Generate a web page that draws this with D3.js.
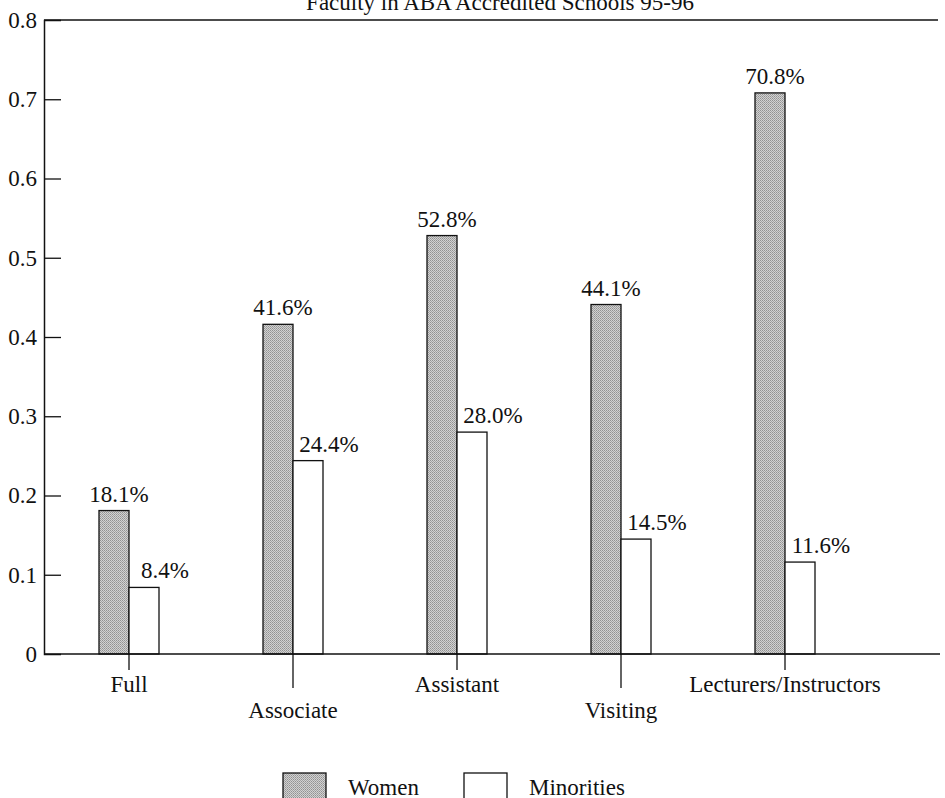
<!DOCTYPE html>
<html>
<head>
<meta charset="utf-8">
<script src="https://cdn.jsdelivr.net/npm/d3@7"></script>
<style>
  body { margin: 0; background: #fff; }
  text { font-family: "Liberation Serif", "DejaVu Serif", serif; fill: #111; }
</style>
</head>
<body>
<div id="chart"></div>
<script>
// data
var categories = ["Full", "Associate", "Assistant", "Visiting", "Lecturers/Instructors"];
var women = [0.181, 0.416, 0.528, 0.441, 0.708];
var minorities = [0.084, 0.244, 0.280, 0.145, 0.116];
var womenLabels = ["18.1%", "41.6%", "52.8%", "44.1%", "70.8%"];
var minorityLabels = ["8.4%", "24.4%", "28.0%", "14.5%", "11.6%"];
var yTicks = [0, 0.1, 0.2, 0.3, 0.4, 0.5, 0.6, 0.7, 0.8];
var seriesNames = ["Women", "Minorities"];

var W = 945, H = 798;
var plotL = 44, plotR = 940, plotT = 20, plotB = 654;
var bw = 30;
var fs = "23px";

var svg = d3.select("#chart").append("svg")
  .attr("width", W).attr("height", H);

// halftone-ish gray fill
var defs = svg.append("defs");
var pat = defs.append("pattern").attr("id", "gray")
  .attr("width", 2).attr("height", 2).attr("patternUnits", "userSpaceOnUse");
pat.append("rect").attr("width", 2).attr("height", 2).attr("fill", "#d2d2d2");
pat.append("rect").attr("width", 1).attr("height", 1).attr("fill", "#929292");
pat.append("rect").attr("x", 1).attr("y", 1).attr("width", 1).attr("height", 1).attr("fill", "#a4a4a4");

var y = d3.scaleLinear().domain([0, 0.8]).range([plotB, plotT]);
var x = d3.scalePoint().domain(categories).range([129, 785]);

// title (cut at the top in the original)
svg.append("text").attr("x", 500).attr("y", 10)
  .attr("text-anchor", "middle").style("font-size", fs)
  .text("Faculty in ABA Accredited Schools 95-96");

// top frame line
svg.append("line").attr("x1", plotL).attr("x2", 938).attr("y1", plotT).attr("y2", plotT)
  .attr("stroke", "#111").attr("stroke-width", 1.5);

// y axis, ticks pointing inward
var yAxis = d3.axisRight(y).tickValues(yTicks).tickSize(17)
  .tickFormat(function(d) { return d === 0 ? "0" : d3.format(".1f")(d); });
var gy = svg.append("g").attr("transform", "translate(" + plotL + ",0)").call(yAxis);
gy.select(".domain").attr("stroke", "#111").attr("stroke-width", 1.5);
gy.selectAll(".tick line").attr("stroke", "#111").attr("stroke-width", 1.3);
gy.selectAll(".tick text").attr("x", -7).attr("text-anchor", "end")
  .style("font-size", fs).style("font-family", "Liberation Serif, serif").attr("fill", "#111");
gy.selectAll(".tick").filter(function(d) { return d === 0.8 || d === 0; }).select("line").remove();

// bars
svg.selectAll("rect.women").data(women).enter().append("rect")
  .attr("class", "women")
  .attr("x", function(d, i) { return x(categories[i]) - bw; })
  .attr("y", function(d) { return y(d); })
  .attr("width", bw)
  .attr("height", function(d) { return y(0) - y(d); })
  .attr("fill", "url(#gray)").attr("stroke", "#111").attr("stroke-width", 1.3);

svg.selectAll("rect.min").data(minorities).enter().append("rect")
  .attr("class", "min")
  .attr("x", function(d, i) { return x(categories[i]); })
  .attr("y", function(d) { return y(d); })
  .attr("width", bw)
  .attr("height", function(d) { return y(0) - y(d); })
  .attr("fill", "#fff").attr("stroke", "#111").attr("stroke-width", 1.3);

// value labels
svg.selectAll("text.wl").data(women).enter().append("text")
  .attr("class", "wl")
  .attr("x", function(d, i) { return x(categories[i]) - 10; })
  .attr("y", function(d) { return y(d) - 9; })
  .attr("text-anchor", "middle").style("font-size", fs)
  .text(function(d, i) { return womenLabels[i]; });

svg.selectAll("text.ml").data(minorities).enter().append("text")
  .attr("class", "ml")
  .attr("x", function(d, i) { return x(categories[i]) + bw + 6; })
  .attr("y", function(d) { return y(d) - 9; })
  .attr("text-anchor", "middle").style("font-size", fs)
  .text(function(d, i) { return minorityLabels[i]; });

// baseline
svg.append("line").attr("x1", plotL).attr("x2", plotR).attr("y1", y(0)).attr("y2", y(0))
  .attr("stroke", "#111").attr("stroke-width", 1.5);

// category ticks and staggered labels
var cat = svg.selectAll("g.cat").data(categories).enter().append("g")
  .attr("class", "cat")
  .attr("transform", function(d) { return "translate(" + x(d) + "," + y(0) + ")"; });
cat.append("line").attr("y1", 0)
  .attr("y2", function(d, i) { return i % 2 ? 34 : 16; })
  .attr("stroke", "#111").attr("stroke-width", 1.3);
cat.append("text")
  .attr("y", function(d, i) { return i % 2 ? 64 : 38; })
  .attr("text-anchor", "middle").style("font-size", fs)
  .text(function(d) { return d; });

// legend
var legX = [283, 464];
var leg = svg.selectAll("g.leg").data(seriesNames).enter().append("g")
  .attr("class", "leg")
  .attr("transform", function(d, i) { return "translate(" + legX[i] + ",773)"; });
leg.append("rect").attr("width", 43).attr("height", 40)
  .attr("fill", function(d, i) { return i === 0 ? "url(#gray)" : "#fff"; })
  .attr("stroke", "#111").attr("stroke-width", 1.3);
leg.append("text").attr("x", 65).attr("y", 22)
  .style("font-size", fs).text(function(d) { return d; });
</script>
</body>
</html>
